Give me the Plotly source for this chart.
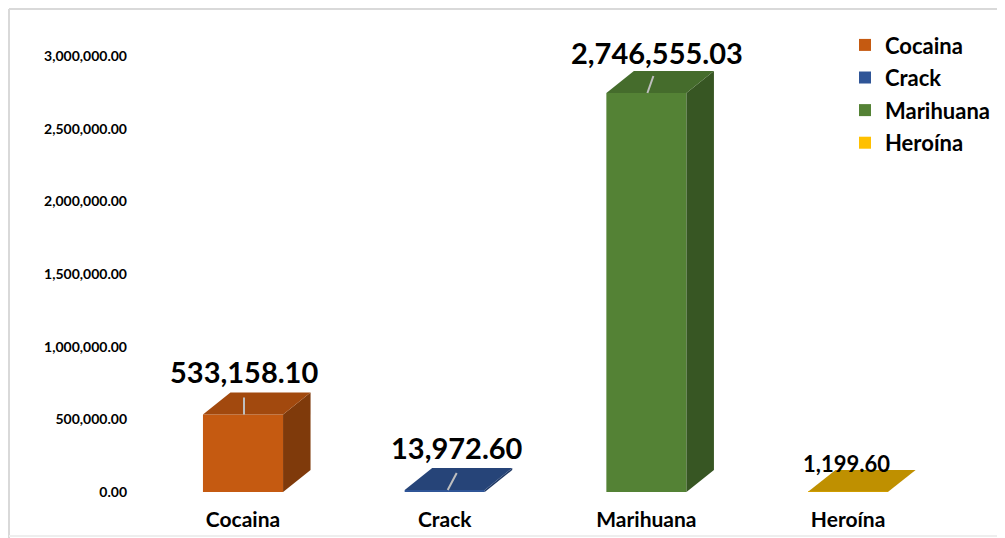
import plotly.graph_objects as go

# data
categories = ["Cocaina", "Crack", "Marihuana", "Heroína"]
values = [533158.10, 13972.60, 2746555.03, 1199.60]
y_ticks = [0, 500000, 1000000, 1500000, 2000000, 2500000, 3000000]

# styling
front_colors = ["#C55A11", "#2F5597", "#548235", "#FFC000"]
top_colors = ["#A2490E", "#264478", "#456C2C", "#BF9000"]
side_colors = ["#7F3A0B", "#1F3864", "#375623", "#8F6C00"]

# page offset / vertical squeeze seen in the rendered page
OFF = 8
SY = 538 / 546
W, H = 1005 - OFF, 538


def fx(p):
    return p - OFF


def fy(p):
    return p / SY - OFF


PX_PER_CAT = 201.7          # pixels between category centres
BAR_W = 0.397               # front face width (category units)
DX = 27.5 / PX_PER_CAT      # 3d depth, horizontal
DY = 151000                 # 3d depth, vertical (value units)
LEAD = 117000               # leader line length (value units)

# per-label tweaks (pixels)
lab_xshift = [1, 12, 11, -2]
lab_yshift = [43, 42, 41, 28]
lab_size = [29, 29, 29, 22]
lead_bottom = [1, 3, 1, None]
lead_top = [1, 12, 7, None]

FONT = "Lato"

fig = go.Figure()

# front faces
for i, (cat, v) in enumerate(zip(categories, values)):
    fig.add_trace(go.Bar(
        x=[i], y=[v], width=BAR_W, name=f"<b>{cat}</b>",
        marker=dict(color=front_colors[i], line=dict(width=0)),
        legendgroup=cat, hoverinfo="skip"
    ))

# side and top faces
for i, v in enumerate(values):
    x0, x1 = i - BAR_W / 2, i + BAR_W / 2
    fig.add_trace(go.Scatter(
        x=[x1, x1 + DX, x1 + DX, x1, x1],
        y=[0, DY, v + DY, v, 0],
        mode="lines", fill="toself", fillcolor=side_colors[i],
        line=dict(width=0), showlegend=False, hoverinfo="skip"
    ))
    fig.add_trace(go.Scatter(
        x=[x0, x1, x1 + DX, x0 + DX, x0],
        y=[v, v, v + DY, v + DY, v],
        mode="lines", fill="toself", fillcolor=top_colors[i],
        line=dict(width=0), showlegend=False, hoverinfo="skip"
    ))

# leader lines
for i, v in enumerate(values):
    if lead_bottom[i] is None:
        continue
    fig.add_trace(go.Scatter(
        x=[i + lead_bottom[i] / PX_PER_CAT, i + lead_top[i] / PX_PER_CAT],
        y=[v, v + LEAD],
        mode="lines", line=dict(color="#BFBFBF", width=2),
        showlegend=False, hoverinfo="skip"
    ))

# data labels
for i, v in enumerate(values):
    fig.add_annotation(
        x=i, y=v, text=f"<b>{v:,.2f}</b>", showarrow=False,
        xshift=lab_xshift[i], yshift=lab_yshift[i],
        font=dict(family=FONT, size=lab_size[i], color="#000000")
    )

# plot area, from page pixels to figure pixels
x_left, x_right, first_cat = fx(135), fx(1000), fx(243)
zero_y = fy(492)
y_max = 3250000
top_y = fy(492 - y_max / 1e6 * 145.3)

fig.update_layout(
    width=W, height=H,
    margin=dict(l=0, r=0, t=0, b=0),
    paper_bgcolor="white", plot_bgcolor="white",
    barmode="overlay",
    font=dict(family=FONT, color="#000000"),
    xaxis=dict(
        domain=[x_left / W, x_right / W],
        range=[(x_left - first_cat) / PX_PER_CAT,
               (x_right - first_cat) / PX_PER_CAT],
        tickvals=list(range(len(categories))),
        ticktext=[f"<b>{c}</b>" for c in categories],
        tickfont=dict(size=21),
        showgrid=False, zeroline=False, showline=False, ticks="",
        ticklabelstandoff=13,
    ),
    yaxis=dict(
        domain=[(H - zero_y) / H, (H - top_y) / H],
        range=[0, y_max],
        tickvals=y_ticks,
        ticktext=[f"<b>{t:,.2f}</b>" for t in y_ticks],
        tickfont=dict(size=14),
        showgrid=False, zeroline=False, showline=False, ticks="",
        ticklabelstandoff=7,
    ),
    legend=dict(
        x=fx(845) / W, y=1 - fy(24) / H, xanchor="left", yanchor="top",
        font=dict(size=22),
        traceorder="grouped", tracegroupgap=1,
        bgcolor="rgba(0,0,0,0)",
    ),
    shapes=[
        dict(type="line", xref="paper", yref="paper",
             x0=1 / W, x1=1, y0=1 - 1 / H, y1=1 - 1 / H,
             line=dict(color="#D9D9D9", width=2)),
        dict(type="line", xref="paper", yref="paper",
             x0=1 / W, x1=1 / W, y0=1 - 1 / H, y1=0,
             line=dict(color="#D9D9D9", width=2)),
        dict(type="line", xref="paper", yref="paper",
             x0=1 / W, x1=1, y0=1 - fy(536) / H, y1=1 - fy(536) / H,
             line=dict(color="#EEEEEE", width=2)),
    ],
)

fig.write_html("out.html")
